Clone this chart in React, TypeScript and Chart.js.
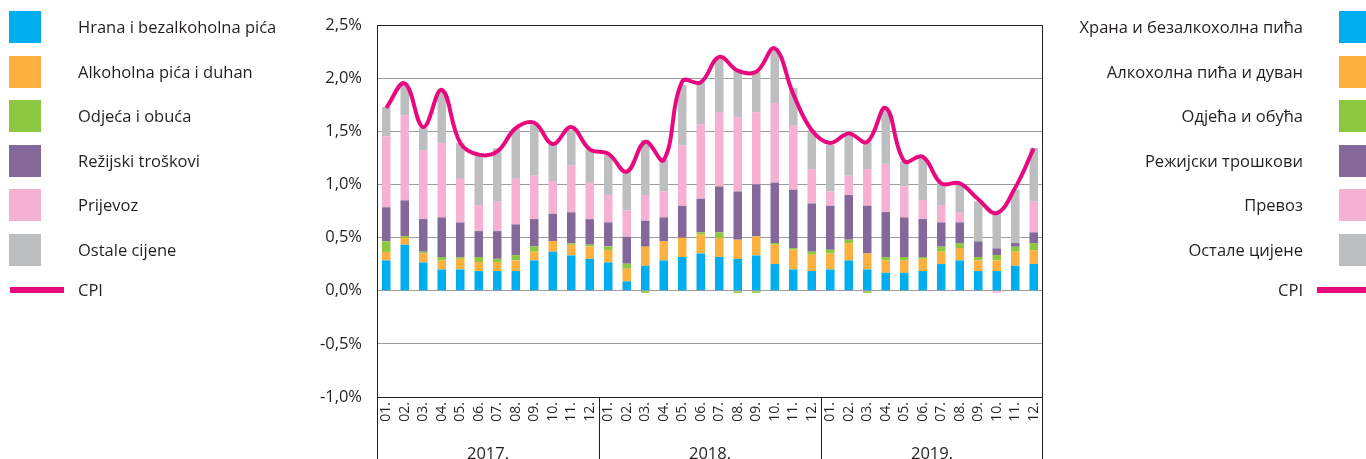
import React, { useEffect, useRef } from "react";
import { Chart, registerables } from "chart.js";

Chart.register(...registerables);

const months: string[] = [
  "01.", "02.", "03.", "04.", "05.", "06.", "07.", "08.", "09.", "10.", "11.", "12.",
  "01.", "02.", "03.", "04.", "05.", "06.", "07.", "08.", "09.", "10.", "11.", "12.",
  "01.", "02.", "03.", "04.", "05.", "06.", "07.", "08.", "09.", "10.", "11.", "12.",
];
const years: string[] = ["2017.", "2018.", "2019."];

const food: number[] = [
  0.285, 0.433, 0.266, 0.2, 0.2, 0.185, 0.185, 0.185, 0.285, 0.367, 0.332, 0.3,
  0.266, 0.088, 0.235, 0.285, 0.317, 0.351, 0.317, 0.3, 0.332, 0.251, 0.2, 0.185,
  0.2, 0.285, 0.2, 0.169, 0.169, 0.185, 0.251, 0.285, 0.185, 0.185, 0.235, 0.251,
];
const alcohol: number[] = [
  0.08, 0.065, 0.085, 0.085, 0.1, 0.085, 0.085, 0.1, 0.082, 0.1, 0.1, 0.117,
  0.116, 0.119, 0.179, 0.182, 0.181, 0.176, 0.178, 0.18, 0.179, 0.182, 0.186, 0.154,
  0.15, 0.163, 0.151, 0.116, 0.116, 0.115, 0.116, 0.116, 0.1, 0.1, 0.132, 0.131,
];
const clothing: number[] = [
  0.1, 0.016, 0.016, 0.032, 0.016, 0.047, 0.03, 0.05, 0.05, 0, 0.016, 0.016,
  0.035, 0.047, -0.02, 0, 0, 0.022, 0.054, -0.02, -0.02, 0.016, 0.015, 0.028,
  0.035, 0.032, -0.02, 0.032, 0.032, 0.017, 0.047, 0.047, 0.032, 0.05, 0.047, 0.066,
];
const utilities: number[] = [
  0.32, 0.336, 0.307, 0.373, 0.326, 0.244, 0.261, 0.289, 0.257, 0.257, 0.29, 0.24,
  0.226, 0.254, 0.244, 0.223, 0.3, 0.316, 0.432, 0.454, 0.489, 0.568, 0.549, 0.454,
  0.414, 0.42, 0.449, 0.423, 0.373, 0.357, 0.229, 0.195, 0.147, 0.063, 0.034, 0.101,
];
const transport: number[] = [
  0.668, 0.8, 0.649, 0.699, 0.41, 0.245, 0.276, 0.429, 0.408, 0.307, 0.439, 0.342,
  0.257, 0.247, 0.242, 0.244, 0.57, 0.702, 0.7, 0.699, 0.68, 0.749, 0.602, 0.323,
  0.134, 0.182, 0.344, 0.454, 0.291, 0.179, 0.163, 0.097, 0, -0.02, 0, 0.288,
];
const other: number[] = [
  0.276, 0.29, 0.207, 0.486, 0.336, 0.473, 0.502, 0.471, 0.479, 0.342, 0.335, 0.307,
  0.379, 0.361, 0.52, 0.298, 0.567, 0.392, 0.508, 0.445, 0.38, 0.517, 0.354, 0.37,
  0.439, 0.379, 0.26, 0.508, 0.235, 0.395, 0.207, 0.257, 0.376, 0.332, 0.502, 0.505,
];
const cpi: number[] = [
  1.72, 1.95, 1.54, 1.89, 1.39, 1.28, 1.31, 1.53, 1.58, 1.38, 1.54, 1.33,
  1.29, 1.12, 1.4, 1.23, 1.97, 1.96, 2.2, 2.07, 2.06, 2.28, 1.85, 1.51,
  1.39, 1.48, 1.4, 1.72, 1.22, 1.26, 1.01, 1.01, 0.86, 0.73, 0.97, 1.34,
];

const namesLatin: string[] = [
  "Hrana i bezalkoholna pića",
  "Alkoholna pića i duhan",
  "Odjeća i obuća",
  "Režijski troškovi",
  "Prijevoz",
  "Ostale cijene",
  "CPI",
];
const namesCyr: string[] = [
  "Храна и безалкохолна пића",
  "Алкохолна пића и дуван",
  "Одјећа и обућа",
  "Режијски трошкови",
  "Превоз",
  "Остале цијене",
  "CPI",
];
const colors: string[] = ["#00AEEF", "#FBB040", "#8DC63F", "#85689A", "#F5B0D2", "#BDBEC0"];
const cpiColor = "#E8097F";

const FONT = "'Open Sans', 'Noto Sans', sans-serif";
const TEXT = "#231F20";

const framePlugin = {
  id: "framePlugin",
  afterDraw(chart: any) {
    const { ctx, chartArea } = chart;
    const xs = chart.scales.x;
    const H = chart.height;
    ctx.save();
    ctx.strokeStyle = "#231F20";
    ctx.lineWidth = 1;
    const l = Math.round(chartArea.left) + 0.5;
    const r = Math.round(chartArea.right) - 0.5;
    const t = Math.round(chartArea.top) + 0.5;
    const b = Math.round(chartArea.bottom) + 0.5;
    ctx.beginPath();
    ctx.moveTo(l, b);
    ctx.lineTo(l, t);
    ctx.lineTo(r, t);
    ctx.lineTo(r, b);
    ctx.lineTo(l, b);
    ctx.stroke();
    // year separators
    const bounds: number[] = [chartArea.left];
    for (let y = 1; y < years.length; y++) {
      const i = y * 12;
      bounds.push((xs.getPixelForValue(i - 1) + xs.getPixelForValue(i)) / 2);
    }
    bounds.push(chartArea.right);
    ctx.beginPath();
    bounds.forEach((x, k) => {
      const px = k === bounds.length - 1 ? Math.round(x) - 0.5 : Math.round(x) + 0.5;
      ctx.moveTo(px, b);
      ctx.lineTo(px, H);
    });
    ctx.stroke();
    // year labels
    ctx.fillStyle = TEXT;
    ctx.font = `16.5px ${FONT}`;
    ctx.textAlign = "center";
    ctx.textBaseline = "alphabetic";
    years.forEach((yl, k) => {
      const cx = (xs.getPixelForValue(k * 12) + xs.getPixelForValue(k * 12 + 11)) / 2;
      ctx.fillText(yl, cx, H - 0.5);
    });
    ctx.restore();
  },
};

function ChartCanvas() {
  const ref = useRef<HTMLCanvasElement | null>(null);
  useEffect(() => {
    if (!ref.current) return;
    const series = [food, alcohol, clothing, utilities, transport, other];
    const chart = new Chart(ref.current, {
      type: "bar",
      data: {
        labels: months,
        datasets: [
          {
            type: "line",
            label: "CPI",
            data: cpi,
            borderColor: cpiColor,
            borderWidth: 4,
            pointRadius: 0,
            tension: 0.4,
            fill: false,
            stack: "cpi",
            order: 0,
          } as any,
          ...series.map((d, i) => ({
            type: "bar",
            label: namesLatin[i],
            data: d,
            backgroundColor: colors[i],
            borderWidth: 0,
            stack: "s",
            order: 1,
            barPercentage: 0.46,
            categoryPercentage: 1,
          })),
        ],
      } as any,
      options: {
        responsive: false,
        animation: false,
        maintainAspectRatio: false,
        layout: { padding: { left: 300, right: 323, top: 25, bottom: 0 } },
        plugins: { legend: { display: false }, tooltip: { enabled: false } },
        scales: {
          x: {
            stacked: true,
            grid: { display: false, drawTicks: false },
            border: { display: false },
            ticks: {
              minRotation: 90,
              maxRotation: 90,
              autoSkip: false,
              padding: 5,
              color: TEXT,
              font: { family: FONT, size: 14 },
            },
            afterFit: (s: any) => {
              s.height = 62;
            },
          },
          y: {
            stacked: true,
            min: -1,
            max: 2.5,
            grid: { color: "#9D9D9D", lineWidth: 1, drawTicks: false },
            border: { display: false },
            ticks: {
              stepSize: 0.5,
              padding: 15,
              color: TEXT,
              font: { family: FONT, size: 16.5 },
              callback: (v: any) => Number(v).toFixed(1).replace(".", ",") + "%",
            },
            afterFit: (s: any) => {
              s.width = 77;
            },
          },
        },
      } as any,
      plugins: [framePlugin],
    });
    return () => chart.destroy();
  }, []);
  return <canvas ref={ref} width={1366} height={459} style={{ position: "absolute", left: 0, top: 0 }} />;
}

const rowCenters: number[] = [27, 72, 116, 161, 205, 250, 290];

export default function App() {
  const textStyle: React.CSSProperties = {
    position: "absolute",
    fontFamily: FONT,
    fontSize: "16.5px",
    lineHeight: "22px",
    height: "22px",
    color: TEXT,
    whiteSpace: "nowrap",
  };
  return (
    <div
      style={{
        position: "absolute",
        left: 0,
        top: 0,
        width: 1366,
        height: 459,
        overflow: "hidden",
        background: "#fff",
      }}
    >
      <ChartCanvas />
      {namesLatin.map((n, i) => (
        <React.Fragment key={"l" + i}>
          {i < 6 ? (
            <div
              style={{
                position: "absolute",
                left: 9,
                top: rowCenters[i] - 16,
                width: 32,
                height: 32,
                background: colors[i],
              }}
            />
          ) : (
            <div
              style={{
                position: "absolute",
                left: 10,
                top: rowCenters[i] - 3,
                width: 54,
                height: 6,
                background: cpiColor,
              }}
            />
          )}
          <div style={{ ...textStyle, left: 78, top: rowCenters[i] - 11 }}>{n}</div>
        </React.Fragment>
      ))}
      {namesCyr.map((n, i) => (
        <React.Fragment key={"r" + i}>
          {i < 6 ? (
            <div
              style={{
                position: "absolute",
                left: 1339,
                top: rowCenters[i] - 16,
                width: 32,
                height: 32,
                background: colors[i],
              }}
            />
          ) : (
            <div
              style={{
                position: "absolute",
                left: 1317,
                top: rowCenters[i] - 3,
                width: 54,
                height: 6,
                background: cpiColor,
              }}
            />
          )}
          <div style={{ ...textStyle, right: 1366 - 1303, top: rowCenters[i] - 11, textAlign: "right" }}>{n}</div>
        </React.Fragment>
      ))}
    </div>
  );
}
